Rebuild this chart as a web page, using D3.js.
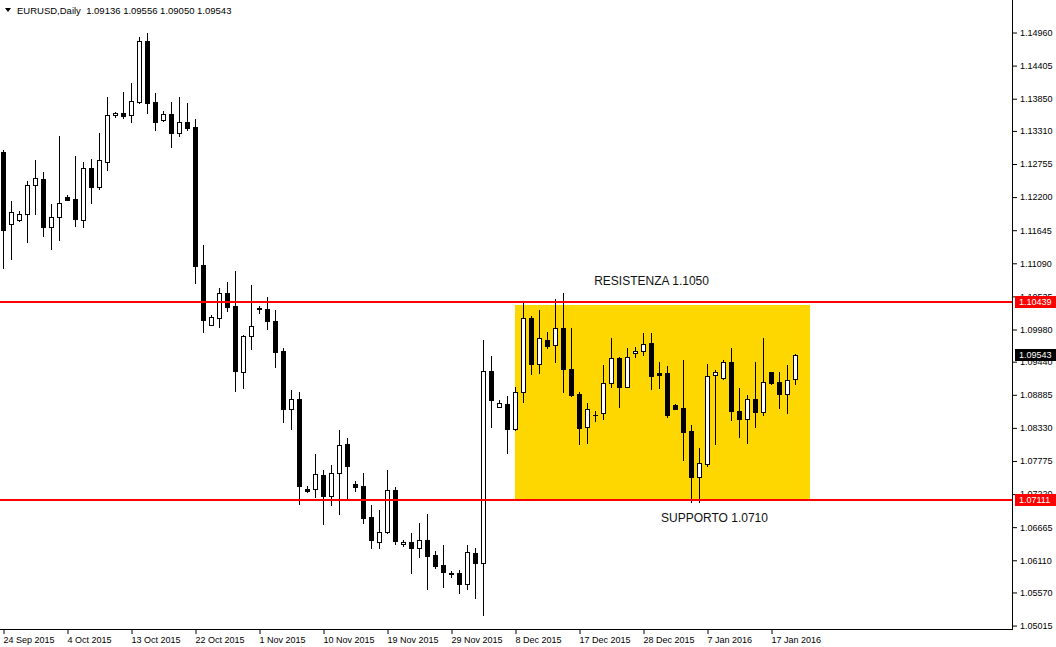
<!DOCTYPE html>
<meta charset="utf-8">
<style>
    body { margin: 0; background: #fff; }
    svg text { font-family: "Liberation Sans", Arial, sans-serif; }
</style>
<body>
<script src="https://cdnjs.cloudflare.com/ajax/libs/d3/7.8.5/d3.min.js"></script>
<script>
    // daily bars, oldest first (24 Sep 2015 .. 20 Jan 2016)
    var opens = [1.12948, 1.11741, 1.11808, 1.11908, 1.12395, 1.12495, 1.11690, 1.11858, 1.12193, 1.12160,
        1.11808, 1.12680, 1.12361, 1.12781, 1.13563, 1.13602, 1.13568, 1.13787, 1.14809, 1.13787,
        1.13485, 1.13585, 1.13267, 1.13451, 1.13367, 1.11053, 1.10047, 1.10164, 1.10583, 1.10365,
        1.09258, 1.09862, 1.10332, 1.10315, 1.10114, 1.09611, 1.08638, 1.08806, 1.07297, 1.07297,
        1.07531, 1.07179, 1.07565, 1.08051, 1.07380, 1.07347, 1.06827, 1.06408, 1.06575, 1.07280,
        1.06374, 1.06408, 1.06307, 1.06441, 1.06190, 1.06022, 1.05888, 1.05888, 1.05703, 1.06223,
        1.06056, 1.09275, 1.08672, 1.08722, 1.08303, 1.08923, 1.10164, 1.09392, 1.09795, 1.09711,
        1.09996, 1.09309, 1.08890, 1.08336, 1.08537, 1.08571, 1.09074, 1.09493, 1.09007, 1.09577,
        1.09611, 1.09745, 1.09241, 1.09241, 1.08705, 1.08655, 1.08269, 1.07498, 1.07715, 1.09208,
        1.09157, 1.09426, 1.08605, 1.08470, 1.08806, 1.08588, 1.09258, 1.09091, 1.08890, 1.09136];
    var highs = [1.12981, 1.12126, 1.11958, 1.12462, 1.12814, 1.12613, 1.12076, 1.13216, 1.12227, 1.12881,
        1.12781, 1.12831, 1.13267, 1.13870, 1.13619, 1.13954, 1.14105, 1.14877, 1.14944, 1.13937,
        1.13636, 1.13787, 1.13870, 1.13770, 1.13501, 1.11388, 1.10214, 1.10667, 1.10768, 1.10952,
        1.09879, 1.10717, 1.10365, 1.10516, 1.10298, 1.09661, 1.08957, 1.08923, 1.07347, 1.07884,
        1.07615, 1.07699, 1.08286, 1.08152, 1.07431, 1.07565, 1.07028, 1.06944, 1.07615, 1.07330,
        1.06441, 1.06558, 1.06726, 1.06877, 1.06257, 1.06357, 1.05921, 1.05938, 1.06357, 1.06307,
        1.09795, 1.09527, 1.08789, 1.08856, 1.09007, 1.10416, 1.10198, 1.10298, 1.09929, 1.10483,
        1.10583, 1.09996, 1.08923, 1.08739, 1.08605, 1.09376, 1.09829, 1.09510, 1.09661, 1.09678,
        1.09912, 1.09912, 1.09426, 1.09359, 1.08722, 1.09460, 1.08370, 1.07984, 1.09392, 1.09292,
        1.09460, 1.09661, 1.08990, 1.08873, 1.09426, 1.09829, 1.09258, 1.09258, 1.09376, 1.09556];
    var lows = [1.11003, 1.11153, 1.11791, 1.11438, 1.11908, 1.11539, 1.11321, 1.11472, 1.12143, 1.11707,
        1.11690, 1.12093, 1.12328, 1.12646, 1.13535, 1.13523, 1.13451, 1.13770, 1.13602, 1.13317,
        1.13468, 1.13032, 1.13216, 1.13317, 1.10751, 1.09930, 1.10047, 1.10013, 1.10281, 1.08940,
        1.08990, 1.09644, 1.10248, 1.09980, 1.09342, 1.08420, 1.08303, 1.07045, 1.07246, 1.07162,
        1.06709, 1.07028, 1.06877, 1.07112, 1.07263, 1.06726, 1.06307, 1.06307, 1.06558, 1.06374,
        1.06341, 1.05888, 1.06156, 1.05620, 1.05972, 1.05653, 1.05821, 1.05552, 1.05620, 1.05469,
        1.05184, 1.08336, 1.08672, 1.07901, 1.08286, 1.08755, 1.09224, 1.09241, 1.09661, 1.09426,
        1.08923, 1.08856, 1.08051, 1.08068, 1.08437, 1.08470, 1.09007, 1.08672, 1.09007, 1.09510,
        1.09544, 1.08973, 1.08990, 1.08504, 1.08638, 1.07783, 1.07078, 1.07078, 1.07682, 1.08051,
        1.09141, 1.08454, 1.08169, 1.08068, 1.08336, 1.08537, 1.09057, 1.08655, 1.08571, 1.09050];
    var closes = [1.11640, 1.11942, 1.11908, 1.12395, 1.12512, 1.11690, 1.11858, 1.12093, 1.12143, 1.11824,
        1.12680, 1.12361, 1.12814, 1.13568, 1.13597, 1.13556, 1.13803, 1.14809, 1.13770, 1.13451,
        1.13585, 1.13267, 1.13451, 1.13350, 1.11036, 1.10131, 1.10181, 1.10583, 1.10349, 1.09275,
        1.09862, 1.10030, 1.10315, 1.10114, 1.09594, 1.08638, 1.08806, 1.07347, 1.07263, 1.07548,
        1.07179, 1.07565, 1.08035, 1.07682, 1.07330, 1.06810, 1.06441, 1.06575, 1.07280, 1.06424,
        1.06408, 1.06307, 1.06441, 1.06173, 1.06006, 1.05905, 1.05871, 1.05703, 1.06240, 1.06056,
        1.09275, 1.08789, 1.08739, 1.08303, 1.08923, 1.10164, 1.09392, 1.09828, 1.09694, 1.09996,
        1.09309, 1.08873, 1.08319, 1.08638, 1.08537, 1.09074, 1.09493, 1.09007, 1.09510, 1.09611,
        1.09728, 1.09191, 1.09208, 1.08537, 1.08638, 1.08252, 1.07498, 1.07732, 1.09191, 1.09258,
        1.09426, 1.08605, 1.08470, 1.08806, 1.08588, 1.09091, 1.09074, 1.08890, 1.09124, 1.09543];

    // date labels, one every 8 bars
    var dateLabels = ["24 Sep 2015", "4 Oct 2015", "13 Oct 2015", "22 Oct 2015", "1 Nov 2015",
        "10 Nov 2015", "19 Nov 2015", "29 Nov 2015", "8 Dec 2015", "17 Dec 2015",
        "28 Dec 2015", "7 Jan 2016", "17 Jan 2016"];
    var priceTicks = [1.14960, 1.14405, 1.13850, 1.13310, 1.12755, 1.12200, 1.11645, 1.11090, 1.10535,
        1.09980, 1.09440, 1.08885, 1.08330, 1.07775, 1.07220, 1.06665, 1.06110, 1.05570, 1.05015];

    var headerText = "EURUSD,Daily  1.09136 1.09556 1.09050 1.09543";
    var resistance = 1.10439, support = 1.07111;
    var lastClose = 1.09543;
    // range rectangle: bar span and price span
    var boxBars = [64, 100.9], boxPrices = [1.0713, 1.1038];
    var notes = [
        { text: "RESISTENZA 1.1050", bar: 73.9, price: 1.10785 },
        { text: "SUPPORTO 1.0710", bar: 82.25, price: 1.06810 }
    ];

    var W = 1056, H = 647;
    var plotRight = 1012, plotBottom = 629;

    var svg = d3.select("body").append("svg")
        .attr("width", W)
        .attr("height", H)
        .style("display", "block");

    var x = d3.scaleLinear().domain([0, 99]).range([3, 795]);
    var y = d3.scaleLinear().domain([1.04949, 1.15497]).range([plotBottom, 0]);

    svg.append("rect").attr("width", W).attr("height", H).attr("fill", "#fff");

    // yellow range box
    svg.append("rect")
        .attr("x", Math.round(x(boxBars[0])))
        .attr("y", Math.round(y(boxPrices[1])))
        .attr("width", Math.round(x(boxBars[1])) - Math.round(x(boxBars[0])))
        .attr("height", Math.round(y(boxPrices[0])) - Math.round(y(boxPrices[1])))
        .attr("fill", "#FFD700");

    // candles
    var bars = d3.range(opens.length).map(function (i) {
        return { i: i, o: opens[i], h: highs[i], l: lows[i], c: closes[i] };
    });

    var candle = svg.append("g").selectAll("g")
        .data(bars)
        .enter().append("g");

    candle.append("line")
        .attr("x1", function (d) { return Math.round(x(d.i)) + 0.5; })
        .attr("x2", function (d) { return Math.round(x(d.i)) + 0.5; })
        .attr("y1", function (d) { return Math.round(y(d.h)); })
        .attr("y2", function (d) { return Math.round(y(d.l)) + 1; })
        .attr("stroke", "#000")
        .attr("stroke-width", 1);

    candle.append("rect")
        .attr("x", function (d) { return Math.round(x(d.i)) - 2 + (d.c > d.o ? 0.5 : 0); })
        .attr("y", function (d) {
            var t = Math.round(y(Math.max(d.o, d.c)));
            return d.c > d.o ? t + 0.5 : t;
        })
        .attr("width", function (d) { return d.c > d.o ? 4 : 5; })
        .attr("height", function (d) {
            var t = Math.round(y(Math.max(d.o, d.c))), b = Math.round(y(Math.min(d.o, d.c)));
            return d.c > d.o ? Math.max(1, b - t) : Math.max(1, b - t + 1);
        })
        .attr("fill", function (d) { return d.c > d.o ? "#fff" : "#000"; })
        .attr("stroke", function (d) { return d.c > d.o ? "#000" : "none"; })
        .attr("stroke-width", 1);

    // support / resistance lines
    [resistance, support].forEach(function (p) {
        svg.append("line")
            .attr("x1", 0).attr("x2", plotRight)
            .attr("y1", Math.round(y(p))).attr("y2", Math.round(y(p)))
            .attr("stroke", "#FF0000")
            .attr("stroke-width", 2);
    });

    // notes
    svg.selectAll(".note")
        .data(notes)
        .enter().append("text")
        .attr("class", "note")
        .attr("x", function (d) { return x(d.bar); })
        .attr("y", function (d) { return y(d.price); })
        .attr("dy", "0.35em")
        .attr("font-size", "12px")
        .attr("fill", "#111")
        .text(function (d) { return d.text; });

    // frame
    svg.append("line").attr("x1", plotRight + 0.5).attr("x2", plotRight + 0.5)
        .attr("y1", 0).attr("y2", plotBottom + 1).attr("stroke", "#000");
    svg.append("line").attr("x1", 0).attr("x2", plotRight + 1)
        .attr("y1", plotBottom + 0.5).attr("y2", plotBottom + 0.5).attr("stroke", "#000");

    // price axis
    var yAxis = svg.append("g")
        .attr("transform", "translate(" + (plotRight + 1) + ",0.5)")
        .call(d3.axisRight(y).tickValues(priceTicks).tickFormat(d3.format(".5f")).tickSize(4).tickPadding(3));
    yAxis.select(".domain").remove();
    yAxis.selectAll("text").attr("font-size", "9px").attr("font-family", "Liberation Sans, Arial, sans-serif").attr("fill", "#000");

    // time axis
    var xAxis = svg.append("g")
        .attr("transform", "translate(0.5," + (plotBottom + 1) + ")")
        .call(d3.axisBottom(x).tickValues(d3.range(0, dateLabels.length * 8, 8))
            .tickFormat(function (d, i) { return dateLabels[i]; }).tickSize(4).tickPadding(3));
    xAxis.select(".domain").remove();
    xAxis.selectAll("text").attr("text-anchor", "start").attr("x", -0.5)
        .attr("font-size", "9px").attr("font-family", "Liberation Sans, Arial, sans-serif").attr("fill", "#000");

    // price labels on the axis (drawn over the tick labels they cover)
    var tags = [
        { p: resistance, bg: "#FF0000" },
        { p: support, bg: "#FF0000" },
        { p: lastClose, bg: "#000" }
    ];
    tags.forEach(function (t) {
        var cy = Math.round(y(t.p));
        svg.append("rect")
            .attr("x", plotRight + 3).attr("y", cy - 6)
            .attr("width", 41).attr("height", 12)
            .attr("fill", t.bg);
        svg.append("text")
            .attr("x", plotRight + 7).attr("y", cy)
            .attr("dy", "0.35em")
            .attr("font-size", "9px")
            .attr("fill", "#fff")
            .text(d3.format(".5f")(t.p));
    });

    // header
    svg.append("path")
        .attr("d", "M5,8 L11,8 L8,12 Z")
        .attr("fill", "#000");
    svg.append("text")
        .attr("x", 17).attr("y", 14)
        .attr("font-size", "9.5px")
        .attr("fill", "#000")
        .style("white-space", "pre")
        .text(headerText);
</script>
</body>
